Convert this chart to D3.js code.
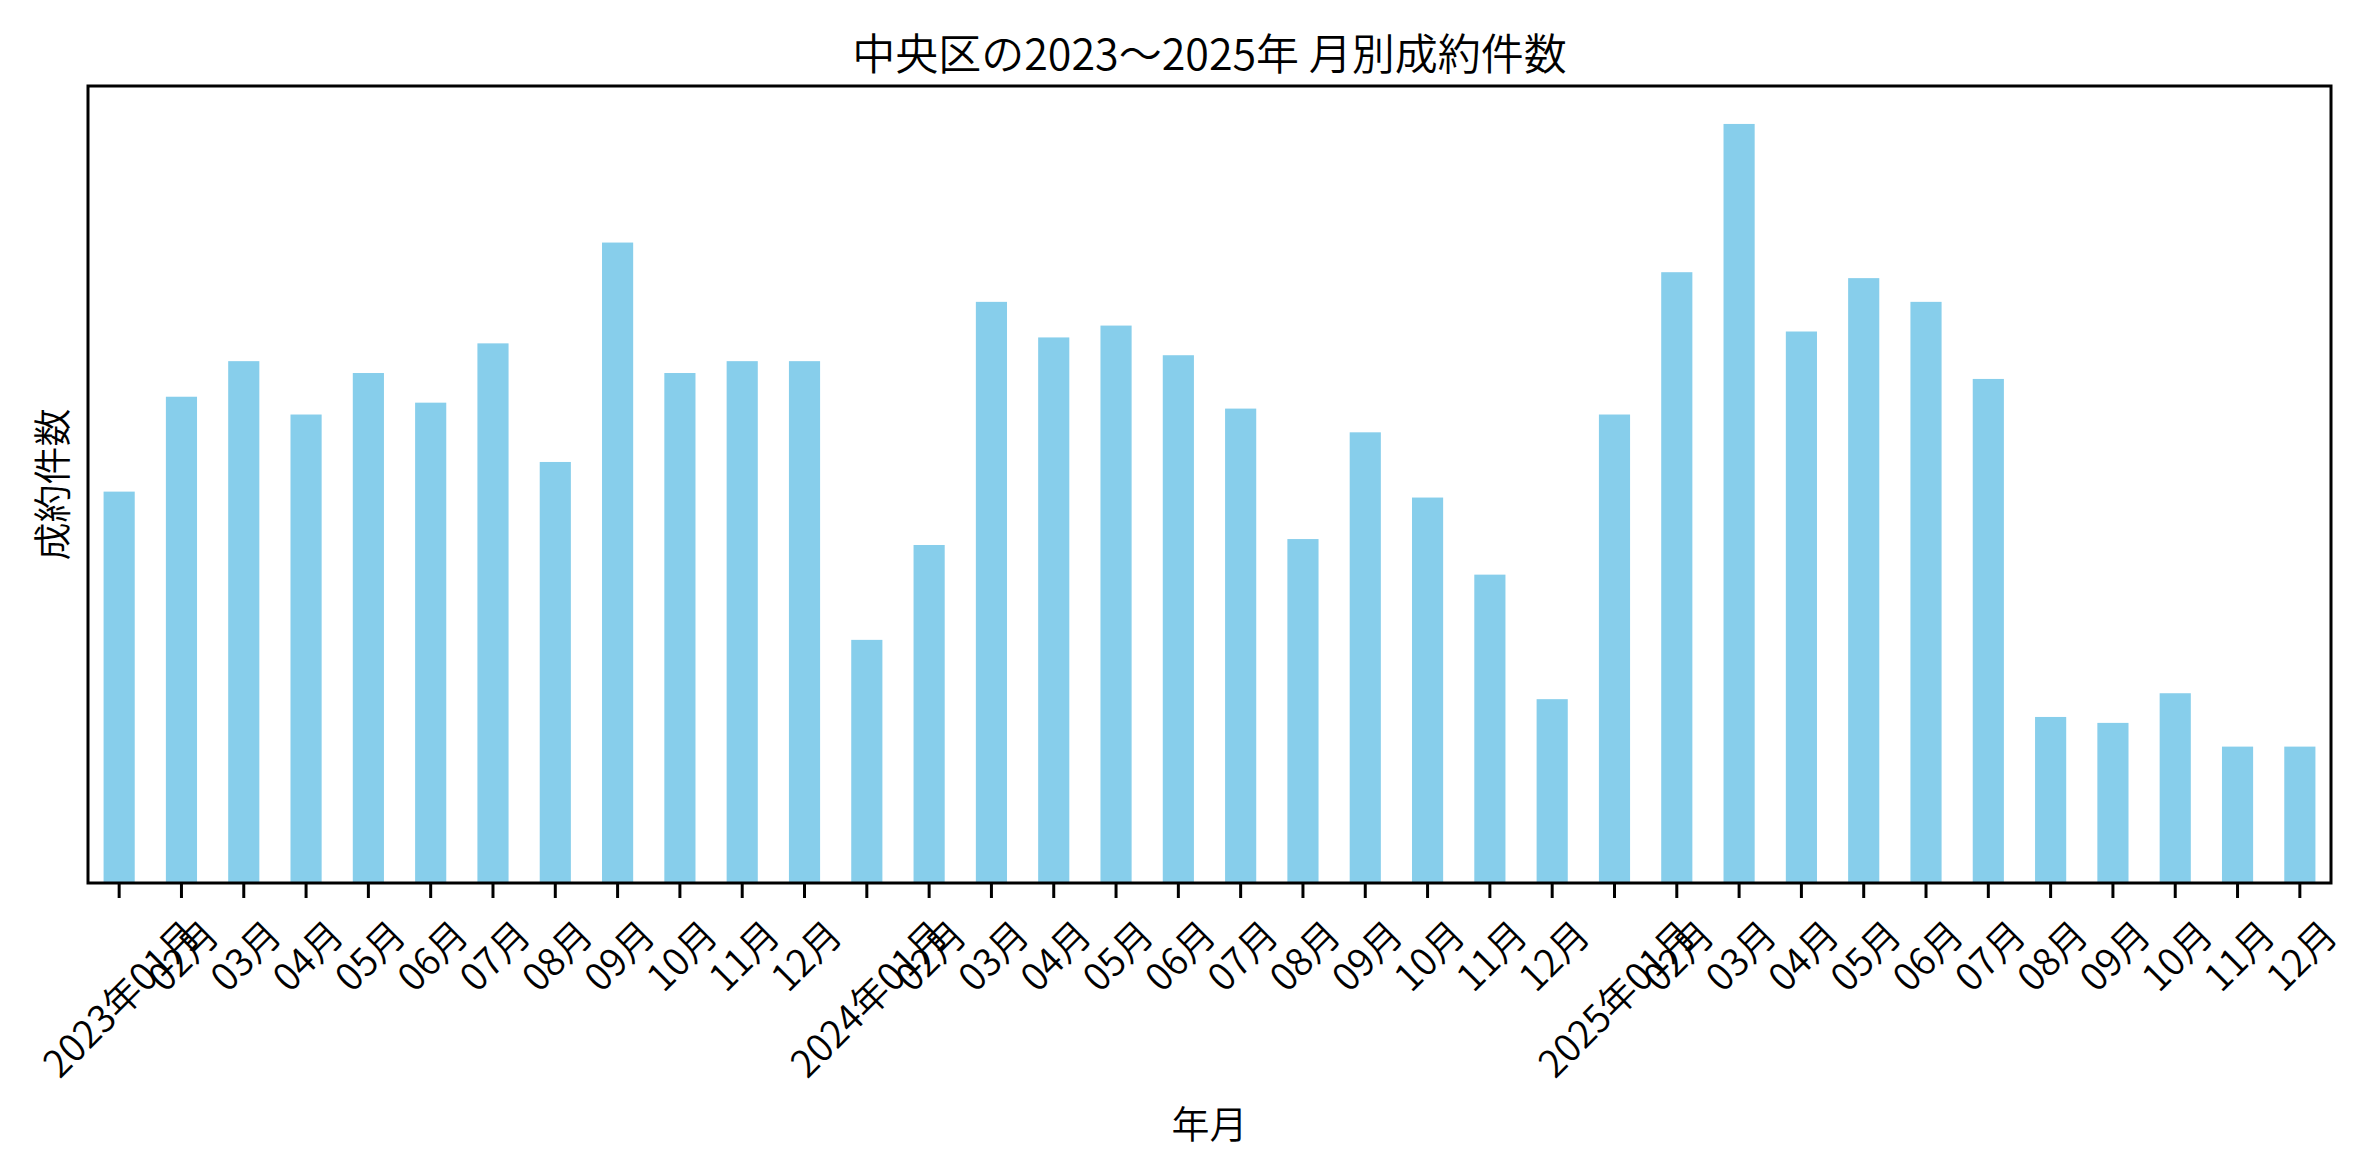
<!DOCTYPE html>
<html>
<head>
<meta charset="utf-8">
<script src="https://cdn.jsdelivr.net/npm/d3@7"></script>
<style>
  html, body { margin: 0; padding: 0; background: #fff; }
  text { font-family: "Noto Sans CJK JP", "Noto Sans", sans-serif; font-weight: 350; fill: #000; }
</style>
</head>
<body>
<svg width="2366" height="1175"></svg>
<script>
// 年月ラベル (2023-01 .. 2025-12)
years = ['2023', '2024', '2025']
months = ['01','02','03','04','05','06','07','08','09','10','11','12']
labels = []
years.forEach(y => months.forEach(m => labels.push(m == '01' ? `${y}年${m}月` : `${m}月`)))

// 成約件数
counts = [66, 82, 88, 79, 86, 81, 91, 71, 108, 86, 88, 88,
          41, 57, 98, 92, 94, 89, 80, 58, 76, 65, 52, 31,
          79, 103, 128, 93, 102, 98, 85, 28, 27, 32, 23, 23]

title = '中央区の2023～2025年 月別成約件数'
xTitle = '年月'
yTitle = '成約件数'

let svg = d3.select('svg'),
    width = +svg.attr('width'),
    height = +svg.attr('height')

let m = {left: 88, right: width - 2331, top: 86, bottom: height - 883}
let x = d3.scaleBand().domain(d3.range(counts.length))
    .range([m.left, width - m.right]).paddingInner(0.5).paddingOuter(0.25)
let y = d3.scaleLinear().domain([0, d3.max(counts) * 1.05]).range([height - m.bottom, m.top])

svg.append('g').selectAll('rect').data(counts).enter().append('rect')
    .attr('x', (d, i) => x(i))
    .attr('width', x.bandwidth())
    .attr('y', d => y(d))
    .attr('height', d => y(0) - y(d))
    .style('fill', '#87ceeb')

// frame
svg.append('rect')
    .attr('x', m.left).attr('y', m.top)
    .attr('width', width - m.left - m.right).attr('height', height - m.top - m.bottom)
    .style('fill', 'none').style('stroke', '#000').style('stroke-width', 3)

let fs = 38
let xAxis = svg.append('g')
    .attr('transform', `translate(0,${height - m.bottom})`)
    .call(d3.axisBottom(x).tickSize(15).tickFormat(i => labels[i]))
xAxis.select('.domain').remove()
xAxis.selectAll('.tick line').style('stroke', '#000').style('stroke-width', 3)
xAxis.selectAll('.tick text')
    .style('font-size', fs + 'px')
    .attr('text-anchor', 'middle')
    .attr('dominant-baseline', 'central')
    .attr('dy', null)
    .each(function() {
        // rotate 45deg around the text centre, bbox top-centred on the tick
        let w = this.getComputedTextLength()
        let s = (w + fs * 1.1) / Math.SQRT2
        d3.select(this).attr('y', 0)
            .attr('transform', `translate(0,${28 + s / 2}) rotate(-45)`)
    })

svg.append('text')
    .attr('x', (m.left + width - m.right) / 2).attr('y', 70)
    .attr('text-anchor', 'middle')
    .style('font-size', '43px')
    .text(title)

svg.append('text')
    .attr('x', (m.left + width - m.right) / 2).attr('y', 1138)
    .attr('text-anchor', 'middle')
    .style('font-size', fs + 'px')
    .text(xTitle)

svg.append('text')
    .attr('transform', `translate(66,${(m.top + height - m.bottom) / 2}) rotate(-90)`)
    .attr('text-anchor', 'middle')
    .style('font-size', fs + 'px')
    .text(yTitle)
</script>
</body>
</html>
